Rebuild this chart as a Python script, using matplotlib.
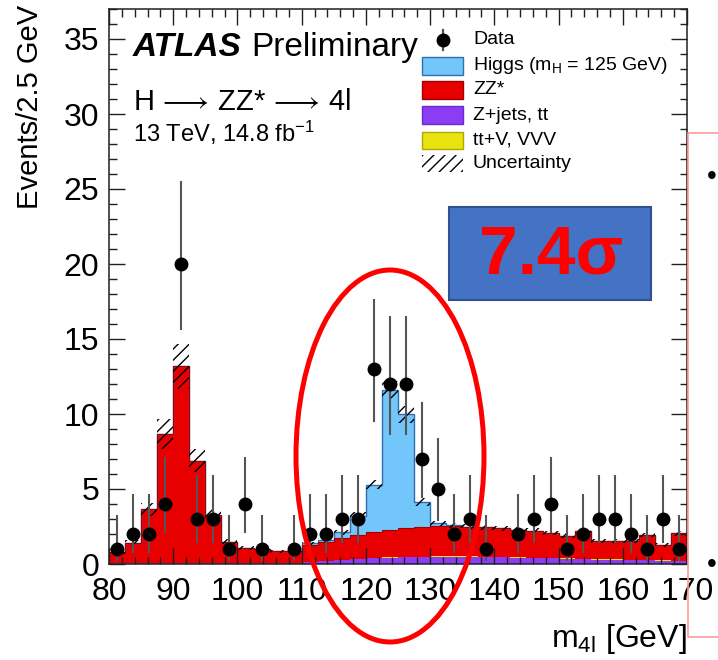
import numpy as np
import matplotlib
matplotlib.use("Agg")
import matplotlib.pyplot as plt
from matplotlib.patches import Rectangle, Ellipse
from matplotlib.lines import Line2D
from matplotlib.ticker import MultipleLocator

plt.rcParams['font.family'] = ['Liberation Sans', 'DejaVu Sans']
plt.rcParams['mathtext.fontset'] = 'custom'
plt.rcParams['mathtext.rm'] = 'Liberation Sans'
plt.rcParams['mathtext.it'] = 'Liberation Sans:italic'
plt.rcParams['mathtext.bf'] = 'Liberation Sans:bold'
plt.rcParams['mathtext.fallback'] = 'cm'
plt.rcParams['hatch.linewidth'] = 1.0

# ---------------- data ----------------
bin_edges = np.linspace(80.0, 170.0, 37)          # 2.5 GeV bins
bin_centers = 0.5 * (bin_edges[:-1] + bin_edges[1:])

data_counts = [1, 2, 2, 4, 20, 3, 3, 1, 4, 1, 0, 1, 2, 2, 3, 3, 13, 12,
               12, 7, 5, 2, 3, 1, 0, 2, 3, 4, 1, 2, 3, 3, 2, 1, 3, 1]
data_low = [0.17, 0.71, 0.71, 2.09, 15.58, 1.37, 1.37, 0.17, 2.09, 0.17, 0, 0.17,
            0.71, 0.71, 1.37, 1.37, 9.45, 8.59, 8.59, 4.42, 2.84, 0.71, 1.37, 0.17,
            0, 0.71, 1.37, 2.09, 0.17, 0.71, 1.37, 1.37, 0.71, 0.17, 1.37, 0.17]
data_high = [3.30, 4.64, 4.64, 7.16, 25.54, 5.92, 5.92, 3.30, 7.16, 3.30, 0, 3.30,
             4.64, 4.64, 5.92, 5.92, 17.69, 16.55, 16.55, 10.77, 8.38, 4.64, 5.92, 3.30,
             0, 4.64, 5.92, 7.16, 3.30, 4.64, 5.92, 5.92, 4.64, 3.30, 5.92, 3.30]

zjets = [0.04, 0.04, 0.04, 0.05, 0.05, 0.05, 0.05, 0.05, 0.06, 0.06, 0.07, 0.09,
         0.13, 0.20, 0.27, 0.33, 0.38, 0.42, 0.45, 0.47, 0.48, 0.48, 0.48, 0.46,
         0.44, 0.42, 0.40, 0.37, 0.35, 0.33, 0.30, 0.28, 0.26, 0.24, 0.22, 0.20]
ttv = [0.01, 0.01, 0.01, 0.01, 0.01, 0.01, 0.01, 0.01, 0.01, 0.01, 0.01, 0.01,
       0.02, 0.02, 0.02, 0.02, 0.02, 0.03, 0.03, 0.03, 0.03, 0.03, 0.03, 0.03,
       0.03, 0.03, 0.03, 0.03, 0.03, 0.03, 0.03, 0.03, 0.03, 0.03, 0.03, 0.03]
zz = [0.73, 1.33, 3.60, 8.64, 13.14, 6.84, 3.21, 1.44, 0.98, 0.93, 0.77, 0.75,
      1.10, 1.28, 1.43, 1.58, 1.75, 1.85, 1.94, 1.99, 2.02, 2.02, 1.99, 1.96,
      1.91, 1.85, 1.79, 1.65, 1.52, 1.82, 1.19, 1.21, 1.23, 1.66, 1.02, 1.81]
higgs = [0, 0, 0, 0, 0, 0, 0, 0, 0, 0, 0, 0.02,
         0.12, 0.12, 0.40, 1.30, 3.15, 9.30, 7.55, 1.65, 0.18, 0.05, 0, 0,
         0, 0, 0, 0, 0, 0, 0, 0, 0, 0, 0, 0]
uncert = [0.08, 0.20, 0.45, 1.00, 1.50, 0.75, 0.40, 0.18, 0.12, 0.10, 0.10, 0.10,
          0.12, 0.14, 0.16, 0.22, 0.32, 0.60, 0.55, 0.28, 0.16, 0.15, 0.15, 0.15,
          0.15, 0.15, 0.15, 0.14, 0.14, 0.15, 0.13, 0.13, 0.13, 0.15, 0.12, 0.15]

x_ticks = [80, 90, 100, 110, 120, 130, 140, 150, 160, 170]
y_ticks = [0, 5, 10, 15, 20, 25, 30, 35]

legend_labels = ['Data', r'Higgs (m$_{\mathregular{H}}$ = 125 GeV)', 'ZZ*',
                 'Z+jets, tt', 'tt+V, VVV', 'Uncertainty']

# ---------------- colours ----------------
c_purple = '#8a3df2'
c_yellow = '#e8e410'
c_red = '#e80000'
c_red_edge = '#a00000'
c_blue = '#72c6fa'
c_blue_edge = '#2f6fb0'

# ---------------- figure ----------------
W, H = 718, 660
fig = plt.figure(figsize=(W / 100, H / 100), dpi=100)
ax = fig.add_axes([109 / W, (H - 564) / H, 578 / W, 555 / H])

c1 = np.array(zjets)
c2 = c1 + np.array(ttv)
c3 = c2 + np.array(zz)
c4 = c3 + np.array(higgs)
unc = np.array(uncert)

ax.stairs(c1, bin_edges, baseline=0, fill=True, color=c_purple, zorder=1)
ax.stairs(c2, bin_edges, baseline=c1, fill=True, color=c_yellow, zorder=1)
ax.stairs(c3, bin_edges, baseline=c2, fill=True, color=c_red, zorder=1)
ax.stairs(c4, bin_edges, baseline=c3, fill=True, color=c_blue, zorder=1)
ax.stairs(c4, bin_edges, baseline=None, color=c_blue_edge, lw=1.0, zorder=1.1)
ax.stairs(c3, bin_edges, baseline=None, color=c_red_edge, lw=0.8, zorder=1.1)
ax.stairs(c4 + unc, bin_edges, baseline=c4 - unc, fill=True, facecolor='none',
          edgecolor='black', hatch='///', lw=0, zorder=1.2)

counts = np.array(data_counts, dtype=float)
mask = counts > 0
lo = counts - np.array(data_low)
hi = np.array(data_high) - counts
ax.errorbar(bin_centers[mask], counts[mask], yerr=[lo[mask], hi[mask]],
            fmt='o', color='black', ms=9, ecolor='#555555', elinewidth=1.5,
            capsize=0, zorder=5)

ax.set_xlim(80, 170)
ax.set_ylim(0, 37)
ax.set_xticks(x_ticks)
ax.set_yticks(y_ticks)
ax.xaxis.set_minor_locator(MultipleLocator(2))
ax.yaxis.set_minor_locator(MultipleLocator(1))
ax.tick_params(which='both', direction='in', top=True, right=True, width=1.0,
               color='#202020')
ax.tick_params(which='major', length=11.5)
ax.tick_params(which='minor', length=5.4)
ax.tick_params(axis='x', which='major', labelsize=23, pad=9)
ax.tick_params(axis='y', which='major', labelsize=23, pad=7)
for s in ax.spines.values():
    s.set_linewidth(1.1)
    s.set_color('#202020')
ax.set_axisbelow(False)


def fx(px):
    return (px - 109) / 578


def fy(py):
    return (564 - py) / 555


ax.text(-0.137, fy(5), 'Events/2.5 GeV', rotation=90, ha='center', va='top',
        fontsize=21, transform=ax.transAxes)
ax.text(1.0, fy(647), r'm$_{\mathregular{4l}}$ [GeV]', ha='right', va='baseline',
        fontsize=23, transform=ax.transAxes)

ax.text(fx(133), fy(56), 'ATLAS', fontsize=24, fontweight='bold', style='italic',
        va='baseline', transform=ax.transAxes)
ax.text(fx(251), fy(56), 'Preliminary', fontsize=24, va='baseline',
        transform=ax.transAxes)
ax.text(fx(133), fy(110), r'H$\,\longrightarrow\,$ZZ*$\,\longrightarrow\,$4l',
        fontsize=21, va='baseline', transform=ax.transAxes)
ax.text(fx(133), fy(142), r'13 TeV, 14.8 fb$^{\mathregular{-1}}$', fontsize=17,
        va='baseline', transform=ax.transAxes)

# ---------------- legend ----------------
rows = [40, 66, 90, 115, 140, 163]
bx, bw, bh = 422, 41, 17
tx = 473
ax.plot([fx(bx + bw / 2)] * 2, [fy(rows[0] - 10), fy(rows[0] + 10)],
        color='#505050', lw=1.6, transform=ax.transAxes, clip_on=False)
ax.plot([fx(bx + bw / 2)], [fy(rows[0])], 'o', color='black', ms=9,
        transform=ax.transAxes, clip_on=False)
box_styles = [(c_blue, c_blue_edge, None), (c_red, c_red_edge, None),
              (c_purple, '#6a2ad0', None), (c_yellow, '#b0a800', None),
              ('none', 'black', '///')]
for r, (fc, ec, hatch) in zip(rows[1:], box_styles):
    rect = Rectangle((fx(bx), fy(r + bh / 2)), bw / 578, bh / 555,
                     transform=ax.transAxes, facecolor=fc, edgecolor=ec,
                     lw=0 if hatch else 1.0, hatch=hatch, clip_on=False)
    ax.add_patch(rect)
for r, lab in zip(rows, legend_labels):
    ax.text(fx(tx), fy(r), lab, fontsize=14, va='center', ha='left',
            transform=ax.transAxes)

# ---------------- slide annotations ----------------
fig.add_artist(Rectangle((449 / W, 1 - 300 / H), 202 / W, 93 / H,
                         transform=fig.transFigure, facecolor='#4472c4',
                         edgecolor='#2f528f', lw=1.5, zorder=10))
fig.text(551 / W, 1 - 255 / H, '7.4σ', color='#ff0000', fontsize=50,
         fontweight='bold', ha='center', va='center', zorder=11)
fig.add_artist(Ellipse((390 / W, 1 - 456 / H), 188 / W, 372 / H,
                       transform=fig.transFigure, facecolor='none',
                       edgecolor='#ff0000', lw=3.6, zorder=12))
fig.add_artist(Line2D([718 / W, 688 / W, 688 / W, 718 / W],
                      [1 - 133 / H, 1 - 133 / H, 1 - 637 / H, 1 - 637 / H],
                      transform=fig.transFigure, color='#ff9a9a', lw=1.2,
                      zorder=9))
fig.text(712 / W, 1 - 177 / H, '•', fontsize=20, ha='center', va='center')
fig.text(712 / W, 1 - 565 / H, '•', fontsize=20, ha='center', va='center')

fig.savefig('out.png', dpi=100)
